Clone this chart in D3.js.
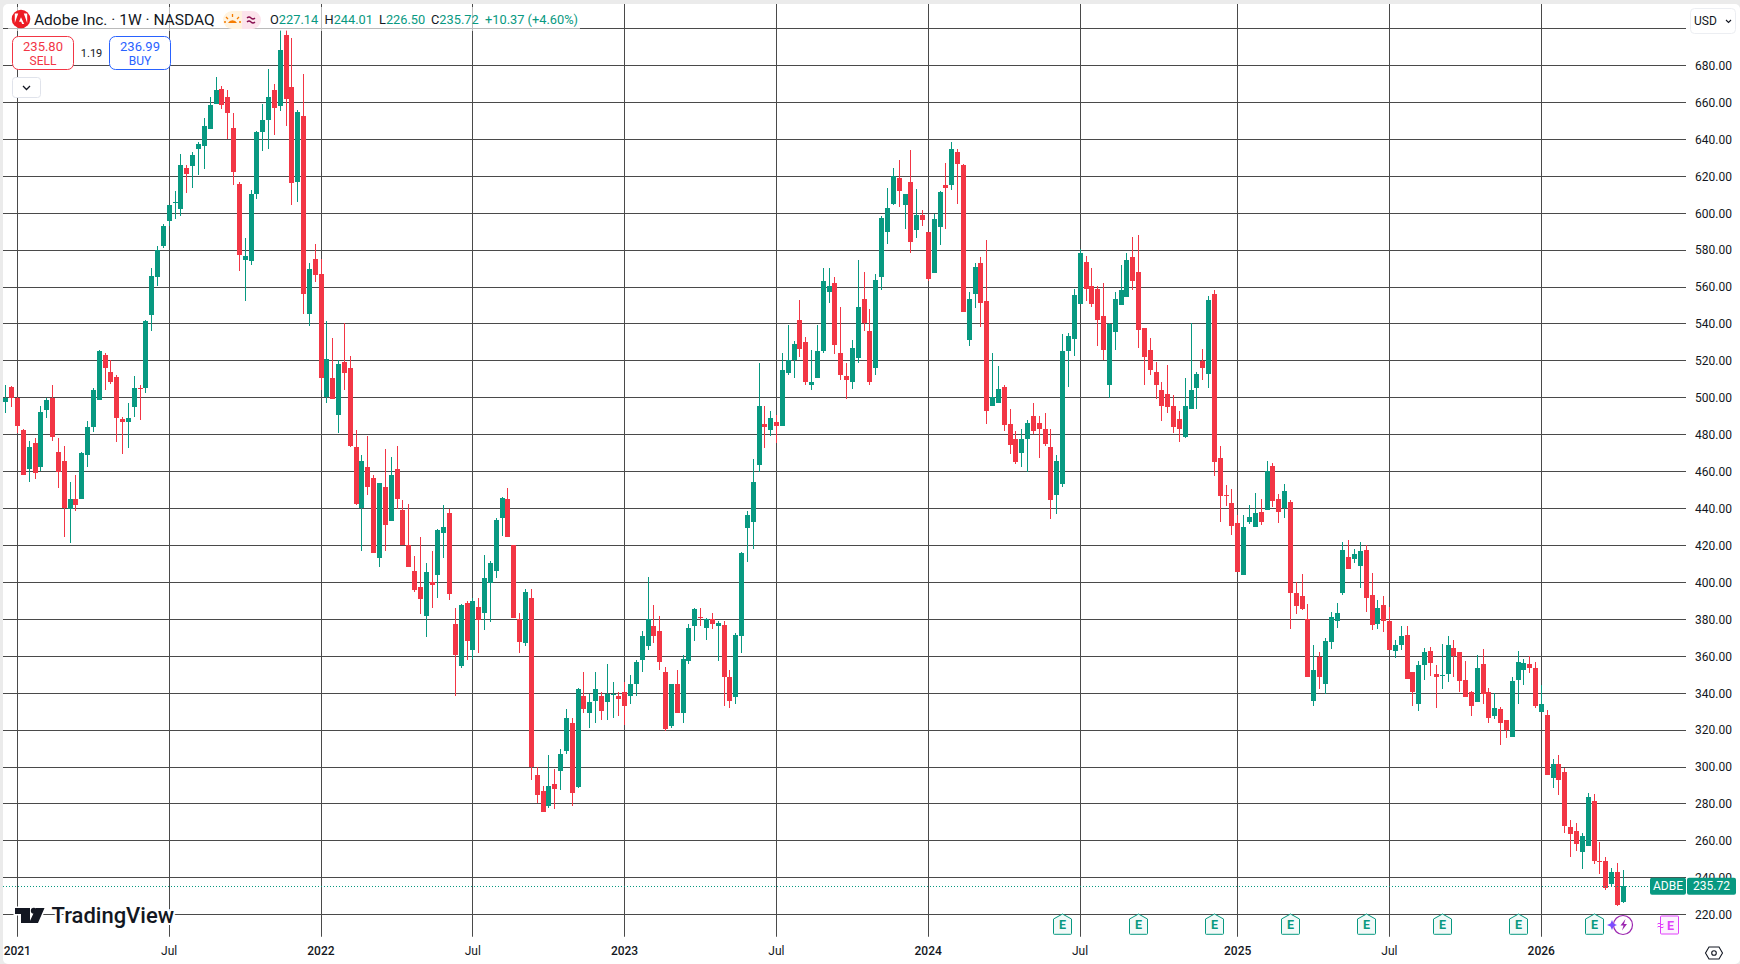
<!DOCTYPE html>
<html><head><meta charset="utf-8">
<script src="https://d3js.org/d3.v7.min.js"></script>
<style>
html,body{margin:0;padding:0;background:#ebebeb;}
svg{display:block;}
text{font-family:Roboto,"Liberation Sans",sans-serif;}
</style></head><body>
<svg id="c" width="1740" height="964"></svg>
<script>
const opens=[497.5,505.8,500,482.3,461.5,475.4,462.4,493.6,500,470.9,
466,439.5,445,445,469,484,499,523.4,514.2,511.5,
488.5,487.1,494.9,505.3,505.1,545,565.5,582,596,606,
602.4,624.6,625.5,634.8,636.4,645.6,659.2,667.3,662.8,646.2,
615.9,574.7,574.2,610.5,644,650.5,666.7,658,696.4,668.2,
616.9,652.6,545.6,575.3,567.2,500.4,510.9,490.8,519.5,516.3,
473.5,440.3,462.7,456.7,413.4,451.8,433.4,461.6,439.4,420.2,
406.4,397.7,382,400.4,404.2,426.9,437.8,377.7,354.9,389,
363.6,386.9,383.6,399.9,406.4,435,445.3,420.2,380.2,367.4,
391.7,295.5,286.8,278.7,290.6,297.7,308.5,324.1,289,338.7,
329.5,336,338.2,335,339,338.7,340.9,338.7,344.7,358.2,
365.8,376.6,373.9,351.2,322,344.7,329.5,357.7,376.6,381.3,
375.5,380.2,376.6,377.1,348.5,337.7,371.2,429.5,432.8,463.4,
485.6,482.3,486.7,484.5,513.2,520.5,542.3,530.5,506.7,510.5,
525.6,557.5,562.3,524.5,512,508.3,521.8,553.7,536.4,515.9,
565.6,589.9,605,619.1,604.5,616.9,591,599.1,589.9,567.7,
592.6,615.3,615.3,633.2,626.1,531.5,556.4,573.2,552.6,495.3,
497,505.6,485.6,477.5,470.2,477.8,490.3,486.5,483.2,473.5,
447.6,453.5,525.4,532,551,573.7,560.7,559.1,544.5,507.2,
535.9,550.5,554.8,576.4,568.3,538,526,514.2,504.5,502.3,
495.3,488.3,479,494,505.1,519.9,512.7,556.4,467.4,447.2,
443.1,432.3,404.1,432.8,430.1,438.2,439.3,463,445.2,440.4,
443.6,394.4,392.8,380,335.5,359.8,344.7,367.9,379.3,394.4,
413.9,412.8,409,417.7,393.3,377.7,387.9,379.3,363,366.3,
371.7,351.7,334.4,355.5,363,350.6,349.6,350.6,364.7,362.5,
347.4,340.4,335,356,340.9,327.9,331.5,325.5,316.3,347.2,
352.6,355.8,353.7,329.9,328.2,294.1,301.7,297.4,267.6,265.4,
254,257.3,281.7,248.9,249.2,236.7,243.2,227.14];
const highs=[506.8,506.4,500.5,483.3,476.7,478.1,495.8,499.8,506.8,478.1,
474,454.6,458,470.6,487.6,505.3,526,524.4,520.3,512.3,
489.4,497,512,507.2,542.2,570.5,582.3,594,604.5,612,
632,626,633,638.5,651.8,662.8,673.6,668.8,666.7,654.3,
616.9,586.7,612.6,644.3,659,678,670,699,699.3,695,
655.9,675.4,573.1,583.4,575.1,541.7,532.5,520.4,540.6,522.8,
482.7,469.2,479.5,458.3,454,472.4,468.1,474.1,444.8,442.6,
414.5,424.8,410.7,417.2,429.1,442.1,439.9,386.3,388.5,390.1,
391.7,391.7,415,411.8,435.1,446.4,451.3,420.2,383.6,396.6,
396.6,299.8,289.5,306.3,298.7,310,331.2,326.3,343,351.7,
339.3,351.2,340.9,356,345.8,340.4,346.3,350.1,358.2,373.9,
403,387.9,382,354.4,345.2,352.8,360.9,377.7,386.3,386.3,
380.9,383.6,379.3,379.3,352.8,372.8,416.6,438.7,466.8,519.1,
495.3,492.6,490.5,524.5,539.6,531,553.2,533.2,526.1,539.6,
570.5,570.5,565.6,549.4,519.1,531.5,574.8,568.3,548.3,567.2,
598.6,613.7,624.5,628.8,610.5,634.2,613.2,601.8,589.9,599.6,
612.1,627.2,638.6,634.8,626.7,557.5,573.2,576.4,585.6,524.5,
517.5,507.2,493.7,481.8,483.2,488.1,497.3,490.3,492,483.2,
469.2,534.6,535.2,559,580.5,577,570.5,560.7,562.3,540.7,
557.5,572,578.6,587.3,588.3,538,532.6,519.6,508.3,518,
501.3,492.6,511,540.4,513.8,526.3,555,558.2,473.9,452.8,
450.6,436.6,436.6,442,448.5,445.2,465.8,464.7,447.9,453.3,
444.7,400.4,404.7,388.5,366.3,362.5,370.1,384.1,389,422,
423.1,418.2,422,420.4,405.2,390.6,392.8,386.8,369,376.6,
376.6,351.7,357.7,364.7,365.2,355,366.8,371.2,369,362.5,
357.7,341,360.9,364.1,343,340.2,332.6,325.5,348.6,362.9,
358.6,360,356.9,344.5,330.9,304.4,306.6,299.5,271.4,269.7,
264.3,286,285.5,259.5,251.3,245.4,248,244.01];
const lows=[491.7,494.8,481,458,454.4,456,460.5,489.2,476.4,451,
424.8,421.5,438.5,445,462.5,481.3,499,504.5,507.6,476,
469.6,473,489.4,487.9,502.4,536.4,560.5,581,593,597,
598.5,611,613.4,620.7,624,645.6,659.2,656.4,640,615.3,
568.8,552.6,572,607.8,633.7,634.8,642.5,655.5,647.4,604.5,
606,545.6,538.7,562.9,504.4,497.3,499.5,481,504.4,473.3,
442.1,417.2,447.5,416.1,408.5,417.2,433.4,440,420.2,408.5,
395,383,370.6,386.3,391.7,413.4,390.6,338.7,353.8,358,
358.6,362,374.4,378.7,402.6,425.3,424.8,380.9,362,365.7,
292.8,280.7,275.5,277.7,277,287.4,306.8,278.7,288.5,329.5,
320.9,324.1,325.2,325.2,326.3,327.9,322.5,333.9,338.7,351.2,
363.6,367.4,352.8,319.3,321.4,329,324.1,356,368.5,376.6,
369,375,357.7,333.3,332.2,333.9,362,411.2,418.2,460,
472.6,479.1,475.3,484.5,512.6,511,522.3,506.7,504.5,510.5,
524.5,551.5,524,509.4,499.1,505,519.1,536.4,507.2,512.6,
558.6,583.4,604.5,603.4,591.5,578.6,586.7,593.2,563.4,567.7,
582.9,591.5,612.6,605,546.7,528.3,548.8,538.5,485.6,495.3,
497,481.8,469.4,463.9,462.7,460,480.6,467.4,474,434.6,
437.3,451.9,506,522.9,551,552.6,549.4,528.3,520.5,500,
526.1,550.5,554.8,558.6,527.2,507.2,512.6,499.1,487.2,491.5,
480.7,476.1,478,494,494,509.5,505.1,457.5,432.8,441.4,
425.8,405.8,404.1,431.7,430.1,431.2,439.3,440.9,432.3,435,
375,383,385.2,349,332.8,342,339.3,364.1,375.5,393.3,
407.4,410.6,397.1,384.1,374.4,375,373.3,363.6,359.3,363.6,
347.9,333.3,330.6,347.4,349.5,332.2,342,345.8,348.5,340.9,
337.7,327.9,335,333.9,323.6,325.8,312,315.8,316.3,334.2,
344.5,351,332,329.9,295.7,288.7,284.9,264.3,251.3,254.6,
244.8,257.3,247.5,242,233.5,235.6,224.8,226.5];
const closes=[500,500,484.5,458,473.3,459.2,492.5,498.6,478.8,459.7,
440.5,445,441.8,470.2,484,504.5,525.6,515.9,508.4,489.1,
486.8,488.9,505.1,505,541.8,566,580,593,604.5,606.2,
626.1,621.3,631.5,637.5,647,658.6,666.7,658.8,654.3,622.3,
577.5,576.7,610.5,644,650.5,662.8,657,688.3,661.9,616.5,
654.7,556.4,569.9,566.6,510.5,521.2,499.5,518.4,513.6,474,
442.6,465.9,451.8,416.1,454,431.3,458.3,445.3,420.2,408.5,
396.1,391.2,405.8,398.8,428.6,430.2,393.9,360.9,388,368.4,
390.1,379.8,402.6,410.7,434,445.9,424.8,380.9,367.9,395,
300,284.7,275.5,289.5,288,306.8,326.3,285.8,342,331.2,
335,342,330.6,339.3,339.3,336.6,332.8,345.2,357.1,371.2,
380,371.2,357.1,320.4,344.7,329.5,358.7,375.5,385.8,381,
380.2,377.7,378.2,348.5,335.5,371.7,416,436.6,454.4,495.3,
484,488.8,484.5,515.3,520.5,529.4,526.7,508.3,508.8,525.6,
563.4,560.7,528.8,512.6,509.9,527.2,549.4,540.7,508.3,564,
597.5,602.9,620,612.1,610.5,584.5,599.1,596.4,564.5,596.9,
611.5,613.7,634.8,626.7,546.7,553.7,571,551.5,492.6,500.5,
505,485,474.2,465,477.8,486.5,482.2,483.2,475.1,444.9,
466,525.4,533.5,555.8,578.6,559.1,551,542.3,526.1,540.2,
553.7,558.6,574.8,563.4,536.9,522.3,515.3,507.2,495.3,494.8,
484,482.9,495.3,504.2,512.7,516.1,553.2,465.4,446.8,447,
430.6,405.8,430.1,435.5,437.7,432.8,460.2,444.1,438.2,449.5,
394.4,387.4,385.8,349,352.8,349,368.5,381.4,383.6,417.7,
407.4,415.5,417.1,391.7,377.1,386.3,379.3,363.6,366.3,371.2,
347.9,340.9,355.5,362.5,356.6,349,349.9,366.3,360.4,346.8,
337.7,333.3,353.9,339.8,326.8,331.7,323.9,320.1,346.5,356.9,
356.4,353.7,333.1,334.2,295.7,301.7,293,268.1,263.8,258.4,
262.7,283.8,249.2,248.5,234.6,243.2,225.35,235.72];
const priceTicks=[220,240,260,280,300,320,340,360,380,400,420,440,460,480,500,520,540,560,580,600,620,640,660,680,700];
const timeTickBars=[2,28,54,80,106,132,158,184,211,237,263];
const timeTickLabels=["2021","Jul","2022","Jul","2023","Jul","2024","Jul","2025","Jul","2026"];
const earningsBars=[181,194,207,220,233,246,259,272];
const nextEarningsBar=285;
const lastPrice=235.72;
const symbolLabel="ADBE";

const UP="#089981",DOWN="#F23645",GRID="#4a4a4a",TXT="#131722";
const svg=d3.select("#c");
const x=d3.scaleLinear().domain([0,277]).range([5.62,1623]);
const y=d3.scaleLinear().domain([220,700]).range([914.7,28.6]);
const px=i=>Math.round(x(i)-0.3);
const PL=3,PR=1686,PT=4,PB=936.7;

svg.append("rect").attr("x",3).attr("y",4).attr("width",1737).attr("height",960).attr("rx",5).attr("fill","#fff");
const defs=svg.append("defs");
defs.append("clipPath").attr("id","pane").append("rect").attr("x",PL).attr("y",PT).attr("width",PR-PL).attr("height",PB-PT);
const pane=svg.append("g").attr("clip-path","url(#pane)").attr("shape-rendering","crispEdges");

pane.selectAll("line.h").data(priceTicks).join("line").attr("class","h")
 .attr("x1",PL).attr("x2",PR).attr("y1",d=>Math.floor(y(d))+.5).attr("y2",d=>Math.floor(y(d))+.5)
 .attr("stroke",GRID);
pane.selectAll("line.v").data(timeTickBars).join("line").attr("class","v")
 .attr("y1",PT).attr("y2",PB).attr("x1",d=>px(d)+.5).attr("x2",d=>px(d)+.5)
 .attr("stroke",GRID);

const bars=opens.map((o,i)=>({i,o,h:highs[i],l:lows[i],c:closes[i]}));
const col=d=>d.c>=d.o?UP:DOWN;
const g=pane.selectAll("g.bar").data(bars).join("g").attr("class","bar");
g.append("rect").attr("x",d=>px(d.i)).attr("width",1)
 .attr("y",d=>Math.round(y(d.h))).attr("height",d=>Math.max(1,Math.round(y(d.l))-Math.round(y(d.h))))
 .attr("fill",col);
g.append("rect").attr("x",d=>px(d.i)-2).attr("width",5)
 .attr("y",d=>Math.round(y(Math.max(d.o,d.c))))
 .attr("height",d=>Math.max(1,Math.round(y(Math.min(d.o,d.c)))-Math.round(y(Math.max(d.o,d.c)))))
 .attr("fill",col);

// last price dotted line
pane.append("line").attr("x1",PL).attr("x2",PR).attr("y1",Math.round(y(lastPrice))+.5).attr("y2",Math.round(y(lastPrice))+.5)
 .attr("stroke",UP).attr("stroke-dasharray","1 2");

// price axis
const ya=svg.append("g").attr("transform",`translate(${PR},0)`)
 .call(d3.axisRight(y).tickValues(priceTicks.filter(d=>d<700)).tickFormat(d3.format(".2f")).tickSize(0).tickPadding(9));
ya.select(".domain").remove();
ya.selectAll("text").attr("font-size",12).attr("fill",TXT).style("font-family","Roboto");

// time axis
const xa=svg.append("g").attr("transform","translate(-0.5,946)")
 .call(d3.axisBottom(x).tickValues(timeTickBars).tickFormat(d=>timeTickLabels[timeTickBars.indexOf(d)]).tickSize(0).tickPadding(0));
xa.select(".domain").remove();
xa.selectAll("text").attr("font-size",12).attr("fill",TXT).attr("dy","0.71em")
 .attr("font-weight",d=>timeTickLabels[timeTickBars.indexOf(d)]==="Jul"?400:500)
 .style("font-family","Roboto");

// logo TradingView
const tv=svg.append("g");
tv.append("path").attr("d","M15 908h15v15h-9v-9h-6z M36 908h8.5l-6.5 15h-9z").attr("fill","#131722").attr("stroke","#fff").attr("stroke-width",3).attr("paint-order","stroke");
tv.append("circle").attr("cx",33.8).attr("cy",910.8).attr("r",3).attr("fill","#131722");
tv.append("text").attr("x",51.5).attr("y",923).attr("font-size",22).attr("font-weight",500).attr("fill","#131722")
 .attr("stroke","#fff").attr("stroke-width",4).attr("paint-order","stroke").text("TradingView");

// header legend
svg.append("rect").attr("x",8).attr("y",7).attr("width",572).attr("height",24).attr("rx",3).attr("fill","#fff").attr("fill-opacity",.62);
svg.append("circle").attr("cx",21).attr("cy",19).attr("r",9.3).attr("fill","#ED1C24");
svg.append("path").attr("d","M18.2 13.5h-3.4v9.5z M23.8 13.5h3.4v9.5z M21 17.2l3.2 6.8h-2.1l-.9-2.2h-2.2z").attr("fill","#fff");
svg.append("text").attr("x",34).attr("y",25).attr("font-size",15.5).attr("fill",TXT).text("Adobe Inc. · 1W · NASDAQ");
svg.append("path").attr("d","M232 11h10v18h-10a9 9 0 0 1 0-18z").attr("fill","#FFF3E0");
svg.append("path").attr("d","M242 11h10a9 9 0 0 1 0 18h-10z").attr("fill","#FCE4EC");
svg.append("path").attr("d","M228 23a5 5 0 0 1 9 0z").attr("fill","#F57C00");
svg.append("path").attr("d","M232.5 14v3M226 17l2 2M239 17l-2 2M224 22h2M239 22h2").attr("stroke","#F57C00").attr("stroke-width",1.3);
svg.append("path").attr("d","M247 18q2 -2 4 0t4 0M247 22q2 -2 4 0t4 0").attr("stroke","#880E4F").attr("stroke-width",1.3).attr("fill","none");
const ohlc=[["O","227.14",270],["H","244.01",324.5],["L","226.50",379],["C","235.72",431]];
ohlc.forEach(([k,v,xp])=>{
 const t=svg.append("text").attr("x",xp).attr("y",24).attr("font-size",12.8);
 t.append("tspan").attr("fill",TXT).text(k);
 t.append("tspan").attr("fill",UP).text(v);
});
svg.append("text").attr("x",485).attr("y",24).attr("font-size",12.8).attr("fill",UP).text("+10.37 (+4.60%)");

// buy/sell
svg.append("rect").attr("x",73).attr("y",40).attr("width",40).attr("height",24).attr("fill","#fff").attr("fill-opacity",.62);
const btn=(bx,c,p,l)=>{
 svg.append("rect").attr("x",bx+.5).attr("y",36.5).attr("width",61).attr("height",33).attr("rx",6).attr("fill","#fff").attr("stroke",c);
 svg.append("text").attr("x",bx+31).attr("y",50.5).attr("text-anchor","middle").attr("font-size",13).attr("fill",c).text(p);
 svg.append("text").attr("x",bx+31).attr("y",64.5).attr("text-anchor","middle").attr("font-size",12).attr("fill",c).text(l);
};
btn(12,DOWN,"235.80","SELL");
btn(109,"#2962FF","236.99","BUY");
svg.append("text").attr("x",91.6).attr("y",56.5).attr("text-anchor","middle").attr("font-size",11).attr("fill",TXT).text("1.19");
svg.append("rect").attr("x",12.5).attr("y",77.5).attr("width",28).attr("height",20).attr("rx",3).attr("fill","#fff").attr("stroke","#e0e3eb");
svg.append("path").attr("d","M23 86l3.5 3.5 3.5-3.5").attr("fill","none").attr("stroke",TXT).attr("stroke-width",1.3);

// USD
svg.append("rect").attr("x",1690.5).attr("y",8.5).attr("width",45).attr("height",25).attr("rx",4).attr("fill","#fff").attr("stroke","#eceef2");
svg.append("text").attr("x",1694).attr("y",25).attr("font-size",12).attr("fill",TXT).text("USD");
svg.append("path").attr("d","M1726 20l2.5 2.5 2.5-2.5").attr("fill","none").attr("stroke",TXT).attr("stroke-width",1.1);

// last price tag
const ly=y(lastPrice)+.5;
svg.append("rect").attr("x",1650).attr("y",ly-8.5).attr("width",36).attr("height",17).attr("rx",2).attr("fill",UP);
svg.append("rect").attr("x",1687).attr("y",ly-8.5).attr("width",49).attr("height",17).attr("rx",2).attr("fill",UP);
svg.append("text").attr("x",1668).attr("y",ly+4.3).attr("text-anchor","middle").attr("font-size",12).attr("fill","#fff").text(symbolLabel);
svg.append("text").attr("x",1711.5).attr("y",ly+4.3).attr("text-anchor","middle").attr("font-size",12).attr("fill","#fff").text(d3.format(".2f")(lastPrice));

// earnings badges
const eg=svg.selectAll("g.e").data(earningsBars).join("g").attr("class","e").attr("transform",d=>`translate(${px(d)+.5},1)`);
eg.append("path").attr("d","M-9 918l9-5 9 5v14.5a.8.8 0 0 1-.8.8h-16.4a.8.8 0 0 1-.8-.8z").attr("fill","#f2faf8").attr("stroke",UP).attr("stroke-width",1);
eg.append("text").attr("y",928).attr("text-anchor","middle").attr("font-size",12.5).attr("font-weight",700).attr("fill",UP).text("E");
const ne=svg.append("g").attr("transform",`translate(${px(nextEarningsBar)+.5},1)`);
ne.append("rect").attr("x",-9).attr("y",915).attr("width",18).attr("height",18).attr("rx",1).attr("fill","#fdf2fe").attr("stroke","#E040FB");
ne.append("text").attr("x",1).attr("y",928.5).attr("text-anchor","middle").attr("font-size",12.5).attr("font-weight",700).attr("fill","#E040FB").text("E");
ne.append("path").attr("d","M-12 923q1.5-1.5 3 0t3 0M-12 926q1.5-1.5 3 0t3 0").attr("fill","none").attr("stroke","#E040FB");

// news icons
svg.append("circle").attr("cx",1623).attr("cy",925).attr("r",9.5).attr("fill","#fff").attr("stroke","#9C27B0").attr("stroke-width",1.2);
svg.append("path").attr("d","M1625.5 919l-5 6.5h3l-1.5 5 5-6.5h-3z").attr("fill","#9C27B0");
svg.append("path").attr("d","M1612 920l1.5 3.5 3.5 1.5-3.5 1.5-1.5 3.5-1.5-3.5-3.5-1.5 3.5-1.5z").attr("fill","#7C4DFF");

// settings
svg.append("path").attr("d","M1709 947h10l3.5 6-3.5 6h-10l-3.5-6z").attr("fill","none").attr("stroke",TXT).attr("stroke-width",1.1);
svg.append("circle").attr("cx",1714).attr("cy",953).attr("r",2.3).attr("fill","none").attr("stroke",TXT).attr("stroke-width",1.1);
</script>
</body></html>
